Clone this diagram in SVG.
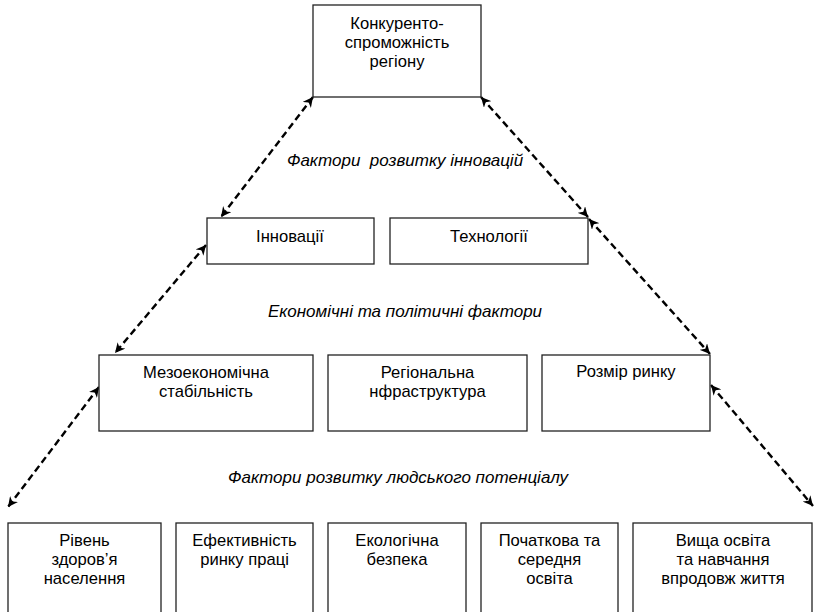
<svg xmlns="http://www.w3.org/2000/svg" width="814" height="612" viewBox="0 0 814 612">
<style>
.box{fill:#fff;stroke:#222;stroke-width:1.3}
.t{font-family:"Liberation Sans",Arial,sans-serif;font-size:16.6px;fill:#000;text-anchor:middle}
.lbl{font-family:"Liberation Sans",Arial,sans-serif;font-size:17px;font-style:italic;fill:#000;text-anchor:middle;white-space:pre}
.c{stroke:#000;stroke-width:2.4;stroke-dasharray:7,4;fill:none;marker-start:url(#ah);marker-end:url(#ah)}
</style>
<defs>
<marker id="ah" viewBox="0 0 10 10" refX="10" refY="5" markerWidth="10" markerHeight="10" markerUnits="userSpaceOnUse" orient="auto-start-reverse">
<path d="M0,0 L10,5 L0,10 L3,5 z" fill="#000" stroke="none"/>
</marker>
</defs>
<rect width="814" height="612" fill="#fff"/>
<g id="connectors">
<line class="c" x1="313" y1="97" x2="221" y2="217"/>
<line class="c" x1="481" y1="97" x2="588" y2="217"/>
<line class="c" x1="206" y1="245" x2="115" y2="353"/>
<line class="c" x1="589" y1="219" x2="710" y2="354"/>
<line class="c" x1="99" y1="387" x2="8" y2="507"/>
<line class="c" x1="711" y1="385" x2="813" y2="506"/>
</g>
<g id="n-top"><rect class="box" x="313" y="5" width="168" height="92"/>
<text class="t" x="397" y="29">Конкуренто-</text><text class="t" x="397" y="48">спроможність</text><text class="t" x="397" y="66.5">регіону</text></g>
<g id="n-innov"><rect class="box" x="207" y="218" width="167" height="46"/><text class="t" x="290" y="242">Інновації</text></g>
<g id="n-tech"><rect class="box" x="390" y="218" width="198" height="46"/><text class="t" x="489" y="242">Технології</text></g>
<g id="l1"><text class="lbl" x="405" y="166" xml:space="preserve">Фактори  розвитку інновацій</text></g>
<g id="l2"><text class="lbl" x="405" y="317">Економічні та політичні фактори</text></g>
<g id="l3"><text class="lbl" x="398" y="483">Фактори розвитку людського потенціалу</text></g>
<g id="n-meso"><rect class="box" x="99" y="355" width="214" height="76"/><text class="t" x="206" y="378">Мезоекономічна</text><text class="t" x="206" y="397">стабільність</text></g>
<g id="n-infra"><rect class="box" x="328" y="355" width="199" height="76"/><text class="t" x="427.5" y="378">Регіональна</text><text class="t" x="427.5" y="397">нфраструктура</text></g>
<g id="n-market"><rect class="box" x="542" y="355" width="168" height="76"/><text class="t" x="626" y="377">Розмір ринку</text></g>
<g id="n-health"><rect class="box" x="8" y="523" width="153" height="100"/><text class="t" x="84.5" y="546">Рівень</text><text class="t" x="84.5" y="565">здоров’я</text><text class="t" x="84.5" y="583.5">населення</text></g>
<g id="n-labour"><rect class="box" x="176" y="523" width="137" height="100"/><text class="t" x="244.5" y="546">Ефективність</text><text class="t" x="244.5" y="565">ринку праці</text></g>
<g id="n-eco"><rect class="box" x="328" y="523" width="138" height="100"/><text class="t" x="397" y="546">Екологічна</text><text class="t" x="397" y="565">безпека</text></g>
<g id="n-school"><rect class="box" x="481" y="523" width="137" height="100"/><text class="t" x="549.5" y="546">Початкова та</text><text class="t" x="549.5" y="565">середня</text><text class="t" x="549.5" y="583.5">освіта</text></g>
<g id="n-higher"><rect class="box" x="633" y="523" width="179" height="100"/><text class="t" x="723" y="546">Вища освіта</text><text class="t" x="723" y="565">та навчання</text><text class="t" x="723" y="583.5">впродовж життя</text></g>
</svg>
